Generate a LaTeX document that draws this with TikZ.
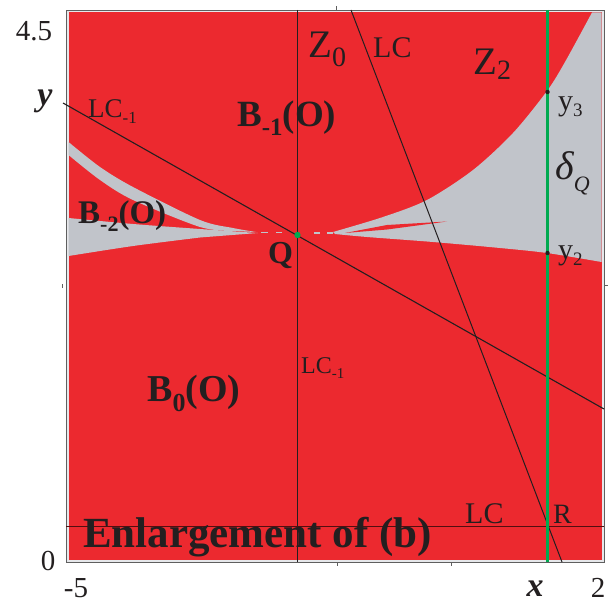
\documentclass[tikz,border=0pt]{standalone}
\usepackage{fontspec}
\setmainfont{Liberation Serif}
\definecolor{bsnRed}  {RGB}{236, 41, 47}
\definecolor{bsnGray} {RGB}{193,196,202}
\definecolor{bsnGreen}{RGB}{  0,170, 80}
\definecolor{bsnInk}  {RGB}{ 35, 31, 32}
\definecolor{bsnFrame}{RGB}{ 95, 95, 95}
\newcommand{\lowtx}[3]{\raisebox{-#1pt}{\fontsize{#2}{#2}\selectfont #3}}

\begin{document}
\begin{tikzpicture}[
  x=1pt, y=-1pt,
  basin/.style={fill=bsnRed},
  gap/.style={fill=bsnGray},
  crit/.style={draw=bsnInk, line width=1pt},
  axisline/.style={draw=bsnInk, line width=0.8pt},
  cutline/.style={draw=bsnGreen, line width=2.4pt},
  lbl/.style={inner sep=0pt, anchor=base west, text=bsnInk},
  big/.style={lbl, font=\fontsize{38}{38}\selectfont\bfseries},
  mid/.style={lbl, font=\fontsize{30}{30}\selectfont},
  tick/.style={inner sep=0pt, text=bsnInk, font=\fontsize{29}{29}\selectfont},
]
  \useasboundingbox (0,0) rectangle (610,604);

  % Frame and the red basin
  \fill[bsnGray!40] (66,10) rectangle (604,562);
  \draw[bsnFrame, line width=0.8pt] (66,10) rectangle (604,562);
  \fill[basin] (68.5,12.5) rectangle (601.5,559.5);

  % Right gray region (between Z2 and the cusp)
  \fill[gap] (592,12.5) -- (601.5,12.5) -- (601.5,262)
    -- plot[smooth] coordinates {(601.5,262) (547,253) (500,248) (433,242) (367,237) (335,234)}
    -- plot[smooth] coordinates {(333,232) (383,217) (427,200) (473,170) (513,133) (547,91) (565,62) (592,12.5)}
    -- cycle;
  \fill[basin] (345,233) -- (387,225) -- (447,221.5) -- (387,229.5) -- cycle;

  % Left gray band and wedge
  \fill[gap] plot[smooth] coordinates {(68.5,142) (100,167) (133,187) (200,220) (233,228) (256,232)}
    -- plot[smooth] coordinates {(233,231) (200,227) (133,200) (100,180) (68.5,155)} -- cycle;
  \fill[gap] (68.5,218) -- plot[smooth] coordinates {(68.5,218) (133,224) (200,229) (258,233)}
    -- plot[smooth] coordinates {(200,237.5) (133,246) (68.5,256)} -- cycle;

  % Small gray pieces near Q
  \fill[gap] (261,231.8) rectangle (268,233.4);
  \fill[gap] (276,231.8) rectangle (282,233.4);
  \fill[gap] (314,232.3) rectangle (320,233.8);
  \fill[gap] (327,232.3) rectangle (333,233.8);

  % Ticks
  \draw[bsnFrame, line width=0.8pt] (336,10) -- (336,6);
  \draw[bsnFrame, line width=0.8pt] (337,562) -- (337,566);
  \draw[bsnFrame, line width=0.8pt] (451,562) -- (451,566);
  \draw[bsnFrame, line width=0.8pt] (604,285) -- (608,285);
  \draw[bsnFrame, line width=0.8pt] (62,284) -- (62,288);

  % Line ends
  \coordinate (vTop)   at (297.5,10);
  \coordinate (vBot)   at (297.5,562);
  \coordinate (lcTop)  at (351,10);
  \coordinate (lcBot)  at (562,562);
  \coordinate (lcmL)   at (63,103);
  \coordinate (lcmR)   at (604,409);
  \coordinate (hL)     at (66,526);
  \coordinate (hR)     at (604,526);
  \coordinate (gTop)   at (547.5,10);
  \coordinate (gBot)   at (547.5,562);

  % Critical lines
  \draw[crit, line width=1.4pt] (vTop) -- (vBot);
  \draw[crit] (lcTop) -- (lcBot);
  \draw[crit, line width=1.1pt] (lcmL) -- (lcmR);
  \draw[axisline, draw=black!65!bsnRed, line width=1pt] (hL) -- (hR);
  \draw[cutline] (gTop) -- (gBot);

  % Points
  \fill[bsnGreen] (297.5,235) circle (3.2) coordinate (Q);
  \fill[bsnInk] (547.5,92) circle (2.2) coordinate (y3pt);
  \fill[bsnInk] (547.5,253) circle (2.2) coordinate (y2pt);

  % Region labels
  \node[big, font=\fontsize{37}{37}\selectfont\bfseries] (bm1) at (237,127) {B\lowtx{9}{25}{-1}(O)};
  \node[big, font=\fontsize{33}{33}\selectfont\bfseries] (bm2) at (78,223) {B\lowtx{8}{22}{-2}(O)};
  \node[big] (b0) at (147,401) {B\lowtx{10}{26}{0}(O)};
  \node[lbl, font=\fontsize{39}{39}\selectfont] (z0) at (308,58) {Z\lowtx{9}{28}{0}};
  \node[lbl, font=\fontsize{39}{39}\selectfont] (z2) at (473,75) {Z\lowtx{5}{28}{2}};
  \node[big, font=\fontsize{32}{32}\selectfont\bfseries] (q) at (268,263) {Q};

  % Line labels
  \node[mid] (lcA) at (373,58) {LC};
  \node[mid] (lcB) at (465,523) {LC};
  \node[lbl, font=\fontsize{27}{27}\selectfont] (lcmA) at (88,118) {LC\lowtx{6}{17}{-1}};
  \node[lbl, font=\fontsize{24}{24}\selectfont] (lcmB) at (301,373) {LC\lowtx{5}{15}{-1}};
  \node[lbl, font=\fontsize{28}{28}\selectfont] (r) at (553,523) {R};
  \node[mid] (y3) at (558,111) {y\lowtx{6}{19}{3}};
  \node[mid] (y2) at (558,259) {y\lowtx{6}{19}{2}};
  \node[lbl, font=\fontsize{40}{40}\selectfont\itshape] (dq) at (555,180) {δ\lowtx{12}{22}{Q}};
  \node[lbl, font=\fontsize{43}{43}\selectfont\bfseries] (enl) at (83,547) {Enlargement of (b)};

  % Axis labels
  \node[tick] (t45) at (34,31) {4.5};
  \node[tick] (t0) at (48,561) {0};
  \node[tick] (tm5) at (76,588) {-5};
  \node[tick] (t2) at (598,588) {2};
  \node[tick, font=\fontsize{34}{34}\selectfont\bfseries\itshape] (xl) at (535,589) {x};
  \node[tick, font=\fontsize{34}{34}\selectfont\bfseries\itshape] (yl) at (45,101) {y};
\end{tikzpicture}
\end{document}
